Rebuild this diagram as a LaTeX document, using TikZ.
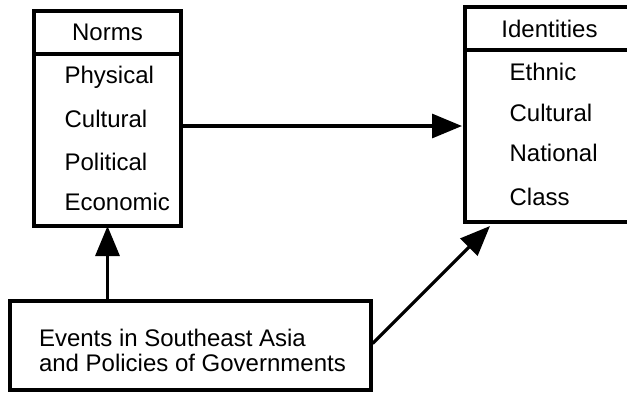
\documentclass[tikz,border=0pt]{standalone}
\usepackage{fontspec}
\setmainfont{Liberation Sans}
\usetikzlibrary{arrows.meta,positioning}
\tikzset{>={Triangle[width=24pt,length=30pt]}}

\begin{document}
\begin{tikzpicture}[x=1pt, y=-1pt, line width=3.2pt]
  \tikzstyle{every node}=[font=\fontsize{24}{25}\selectfont]
  \tikzstyle{boxhead}=[draw, rectangle, minimum height=43pt, inner sep=0pt, outer sep=0pt]
  \tikzstyle{boxbody}=[draw, rectangle, minimum height=172pt, inner sep=0pt, outer sep=0pt]
  \tikzstyle{item}=[anchor=west, inner sep=0pt]
  \useasboundingbox (0,0) rectangle (627,392);

  % norms box
  \node(normshead) [boxhead, minimum width=147pt] at (107.5,32.5) {Norms};
  \node(normsbody) [boxbody, minimum width=147pt, below=0pt of normshead] {};
  \node(physical) [item] at (63,77)  {Physical};
  \node(cultural) [item] at (63,119) {Cultural};
  \node(political)[item] at (63,162) {Political};
  \node(economic) [item] at (63,202) {Economic};

  % identities box (runs off the right edge)
  \node(idhead) [boxhead, minimum width=169pt] at (549.5,28.5) {Identities};
  \node(idbody) [boxbody, minimum width=169pt, below=0pt of idhead] {};
  \node(ethnic)   [item] at (508,72)  {Ethnic};
  \node(idcult)   [item] at (508,113) {Cultural};
  \node(national) [item] at (508,153) {National};
  \node(class)    [item] at (508,197) {Class};

  % events box
  \node(events) [draw, minimum width=361pt, minimum height=89pt, inner sep=0pt] at (190.5,345.5) {};
  \node(eventstext) [item, align=left] at ([xshift=29pt,yshift=-5pt]events.west)
    {Events in Southeast Asia\\and Policies of Governments};

  \coordinate(normsout) at ([yshift=14pt]normsbody.east);
  \coordinate(idin) at ([xshift=25pt,yshift=-4pt]idbody.south west);

  \draw [->, shorten >=3pt] (normsout) -- (normsout -| idbody.west);
  \draw [->] (events.north -| normsbody.south) -- (normsbody.south);
  \draw [->] ([yshift=2pt]events.east) -- (idin);

\end{tikzpicture}
\end{document}
